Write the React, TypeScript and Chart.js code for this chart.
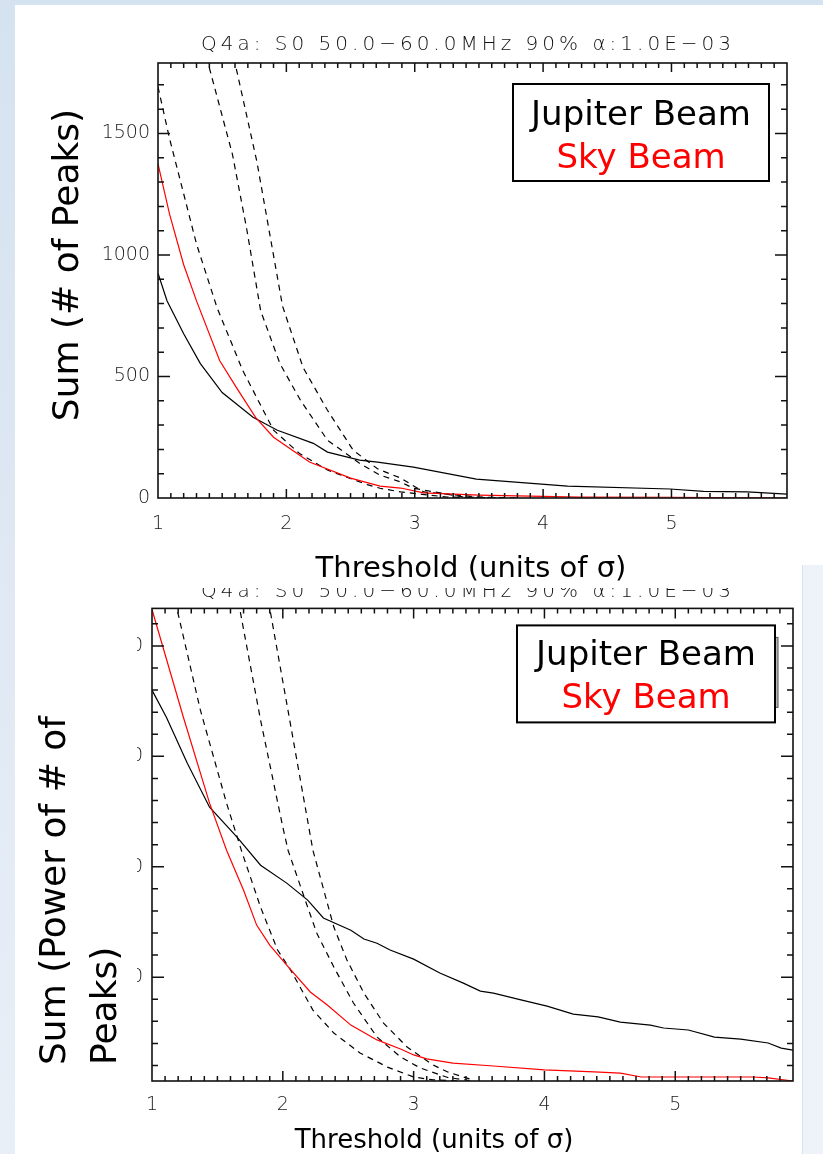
import React, { useEffect, useRef } from "react";
import { Chart, registerables } from "chart.js";

Chart.register(...registerables);
Chart.defaults.font.family = "'DejaVu Sans', sans-serif";

// ---------- text ----------
const PLOT_TITLE = "Q4a: S0 50.0\u221260.0MHz 90% \u03b1:1.0E\u221203";
const X_TITLE = "Threshold (units of \u03c3)";
const TOP_Y_TITLE = ["Sum (# of Peaks)"];
const BOTTOM_Y_TITLE = ["Sum (Power of # of", "Peaks)"];
const JUPITER_LABEL = "Jupiter Beam";
const SKY_LABEL = "Sky Beam";

// ---------- top panel: number of peaks ----------
const topJupiterX = [1.0, 1.07, 1.2, 1.33, 1.5, 1.74, 1.93, 2.21, 2.32, 2.57, 2.71, 2.99, 3.48, 4.19, 4.99, 5.25, 5.59, 5.9];
const topJupiterY = [925, 812, 676, 553, 434, 332, 279, 225, 189, 156, 148, 127, 78, 49, 37, 27, 25, 16];
const topSkyX = [1.0, 1.09, 1.2, 1.3, 1.48, 1.61, 1.76, 1.9, 2.18, 2.5, 2.73, 2.89, 3.07, 3.5, 4.29, 5.0, 5.9];
const topSkyY = [1375, 1168, 960, 811, 566, 455, 332, 250, 148, 82, 49, 41, 21, 12, 4, 3, 0];
const topDash1X = [1.0, 1.09, 1.3, 1.46, 1.66, 1.9, 2.1, 2.32, 2.63, 2.73, 2.89, 3.25, 3.6];
const topDash1Y = [1692, 1479, 1045, 783, 525, 279, 184, 115, 55, 40, 25, 4, 0];
const topDash2X = [1.35, 1.39, 1.58, 1.69, 1.8, 1.95, 2.11, 2.32, 2.57, 2.73, 2.89, 2.99, 3.38, 3.7];
const topDash2Y = [1950, 1790, 1414, 1110, 770, 553, 402, 238, 143, 94, 66, 40, 4, 0];
const topDash3X = [1.57, 1.6, 1.77, 1.97, 2.13, 2.32, 2.52, 2.71, 2.89, 3.07, 3.5, 3.8];
const topDash3Y = [1900, 1790, 1385, 790, 537, 361, 197, 120, 82, 25, 4, 0];

// ---------- bottom panel: power of peaks ----------
const botJupiterX = [1.0, 1.11, 1.27, 1.44, 1.65, 1.83, 2.03, 2.19, 2.31, 2.52, 2.62, 2.72, 2.82, 3.0, 3.2, 3.38, 3.51, 3.61, 3.82, 4.02, 4.22, 4.41, 4.58, 4.81, 4.91, 5.1, 5.3, 5.5, 5.71, 5.81, 5.9];
const botJupiterY = [18000, 16770, 14690, 12700, 11340, 10070, 9260, 8490, 7680, 7130, 6730, 6540, 6230, 5820, 5190, 4730, 4370, 4280, 3970, 3690, 3330, 3200, 2970, 2830, 2700, 2610, 2290, 2200, 2020, 1790, 1700];
const botSkyX = [1.0, 1.24, 1.44, 1.57, 1.7, 1.8, 1.9, 2.03, 2.21, 2.34, 2.52, 2.72, 2.9, 3.0, 3.1, 3.3, 3.61, 4.0, 4.38, 4.58, 4.74, 5.6, 5.71, 5.9];
const botSkyY = [21650, 16770, 12880, 10750, 8940, 7360, 6450, 5550, 4330, 3740, 2830, 2160, 1750, 1480, 1300, 1110, 980, 800, 710, 660, 480, 480, 440, 300];
const botDash1X = [1.15, 1.19, 1.37, 1.57, 1.69, 1.83, 1.96, 2.06, 2.23, 2.39, 2.59, 2.8, 3.0, 3.15, 3.35];
const botDash1Y = [23000, 21700, 17090, 12880, 10620, 8170, 6230, 5320, 3510, 2470, 1570, 930, 480, 350, 300];
const botDash2X = [1.63, 1.67, 1.83, 2.0, 2.04, 2.19, 2.26, 2.39, 2.54, 2.72, 2.9, 3.05, 3.26, 3.43];
const botDash2Y = [23000, 21700, 16640, 11800, 10750, 8170, 6990, 5460, 3830, 2290, 1390, 890, 460, 320];
const botDash3X = [1.87, 1.9, 2.03, 2.23, 2.39, 2.49, 2.62, 2.77, 2.95, 3.15, 3.26, 3.43];
const botDash3Y = [23000, 21700, 17400, 10750, 7270, 5780, 4280, 2920, 1840, 1020, 710, 390];

// ---------- axes ----------
const X_RANGE = [1, 5.9];
const X_STEPS = [0.1, 1]; // minor, major (labelled)
const TOP_Y_RANGE = [0, 1790];
const TOP_Y_STEPS = [100, 500];
const BOT_Y_RANGE = [300, 21700];
const BOT_Y_STEPS = [1000, 5000];

const pts = (xs: number[], ys: number[]) => xs.map((x, i) => ({ x, y: ys[i] }));
const isMult = (v: number, s: number) => Math.abs(v / s - Math.round(v / s)) < 1e-6;
const stepValues = (range: number[], step: number) => {
  const out: number[] = [];
  const first = Math.ceil(range[0] / step - 1e-9);
  const last = Math.floor(range[1] / step + 1e-9);
  for (let k = first; k <= last; k++) out.push(Math.round(k * step * 1e6) / 1e6);
  return out;
};

function datasets(sky: any[], jup: any[], d1: any[], d2: any[], d3: any[]) {
  const base = { pointRadius: 0, borderWidth: 1.2, fill: false, tension: 0 };
  return [
    { ...base, label: SKY_LABEL, data: sky, borderColor: "#ff0000", inLegend: true },
    { ...base, label: JUPITER_LABEL, data: jup, borderColor: "#000000", inLegend: true },
    { ...base, label: "Reference 1", data: d1, borderColor: "#000000", borderDash: [6, 5] },
    { ...base, label: "Reference 2", data: d2, borderColor: "#000000", borderDash: [6, 5] },
    { ...base, label: "Reference 3", data: d3, borderColor: "#000000", borderDash: [6, 5] },
  ];
}

const idlPlugin = {
  id: "idl",
  afterDatasetsDraw(chart: any, _args: any, o: any) {
    const { ctx, chartArea: a } = chart;
    const xs = chart.scales.x;
    const ys = chart.scales.y;
    ctx.save();
    ctx.strokeStyle = "#111";
    ctx.lineWidth = 1.5;
    ctx.setLineDash([]);
    ctx.beginPath();
    xs.ticks.forEach((t: any) => {
      const v = t.value;
      if (v <= xs.min + 1e-9 || v >= xs.max - 1e-9) return;
      const len = isMult(v, o.xMajor) ? o.xMajorLen : o.xMinorLen;
      const px = xs.getPixelForValue(v);
      ctx.moveTo(px, a.bottom);
      ctx.lineTo(px, a.bottom - len);
      ctx.moveTo(px, a.top);
      ctx.lineTo(px, a.top + len);
    });
    ys.ticks.forEach((t: any) => {
      const v = t.value;
      if (v <= ys.min + 1e-9 || v >= ys.max - 1e-9) return;
      const len = isMult(v, o.yMajor) ? o.yMajorLen : o.yMinorLen;
      const py = ys.getPixelForValue(v);
      ctx.moveTo(a.left, py);
      ctx.lineTo(a.left + len, py);
      ctx.moveTo(a.right, py);
      ctx.lineTo(a.right - len, py);
    });
    ctx.stroke();
    ctx.lineWidth = 1.6;
    ctx.strokeRect(a.left, a.top, a.right - a.left, a.bottom - a.top);

    // legend
    const L = o.legend;
    const bx = a.right - L.right - L.width;
    const by = a.top + L.top;
    if (L.shadow) {
      ctx.fillStyle = "#b5b5b5";
      ctx.fillRect(bx + L.width - 2, by + 12, 5, L.height - 27);
      ctx.lineWidth = 1;
      ctx.strokeStyle = "#555";
      ctx.strokeRect(bx + L.width - 2, by + 12, 5, L.height - 27);
    }
    ctx.fillStyle = "#fff";
    ctx.fillRect(bx, by, L.width, L.height);
    ctx.lineWidth = 2;
    ctx.strokeStyle = "#000";
    ctx.strokeRect(bx, by, L.width, L.height);
    const items = chart.data.datasets.filter((d: any) => d.inLegend);
    const order = [JUPITER_LABEL, SKY_LABEL];
    ctx.font = `${L.size}px 'DejaVu Sans'`;
    ctx.textAlign = "center";
    ctx.textBaseline = "alphabetic";
    order.forEach((lab, i) => {
      const d = items.find((it: any) => it.label === lab);
      if (!d) return;
      ctx.fillStyle = d.borderColor;
      ctx.fillText(d.label, bx + L.width / 2, by + L.baselines[i]);
    });
    ctx.restore();
  },
  afterDraw(chart: any, _args: any, o: any) {
    const { ctx } = chart;
    ctx.save();
    ctx.fillStyle = "#111";
    const T = o.title;
    ctx.font = `200 ${T.size}px 'DejaVu Sans'`;
    (ctx as any).letterSpacing = `${T.spacing}px`;
    ctx.textAlign = "center";
    ctx.textBaseline = "alphabetic";
    ctx.fillText(PLOT_TITLE, T.x, T.y);
    (ctx as any).letterSpacing = "0px";
    const XT = o.xTitle;
    ctx.fillStyle = "#000";
    ctx.font = `${XT.size}px 'DejaVu Sans'`;
    ctx.fillText(X_TITLE, XT.x, XT.y);
    const YT = o.yTitle;
    ctx.font = `${YT.size}px 'DejaVu Sans'`;
    YT.lines.forEach((line: string, i: number) => {
      ctx.save();
      ctx.translate(YT.xs[i], YT.y);
      ctx.rotate(-Math.PI / 2);
      ctx.textAlign = YT.align;
      ctx.fillText(line, 0, 0);
      ctx.restore();
    });
    ctx.restore();
  },
};

function xScale(height: number, pad: number) {
  const vals = stepValues(X_RANGE, X_STEPS[0]);
  return {
    type: "linear",
    min: X_RANGE[0],
    max: X_RANGE[1],
    grid: { display: false, drawTicks: false },
    border: { display: false },
    afterBuildTicks: (s: any) => {
      s.ticks = vals.map((v) => ({ value: v }));
    },
    ticks: {
      autoSkip: false,
      maxRotation: 0,
      minRotation: 0,
      padding: pad,
      color: "#1a1a1a",
      font: { size: 19, weight: "200" },
      callback: (v: any) => (isMult(Number(v), X_STEPS[1]) ? String(Math.round(Number(v))) : ""),
    },
    afterFit: (s: any) => {
      s.height = height;
    },
  };
}

function yScale(range: number[], steps: number[], width: number, pad: number, color: any) {
  const vals = stepValues(range, steps[0]);
  return {
    type: "linear",
    min: range[0],
    max: range[1],
    grid: { display: false, drawTicks: false },
    border: { display: false },
    afterBuildTicks: (s: any) => {
      s.ticks = vals.map((v) => ({ value: v }));
    },
    ticks: {
      autoSkip: false,
      padding: pad,
      color,
      font: { size: 19, weight: "200" },
      callback: (v: any) => (isMult(Number(v), steps[1]) ? String(Math.round(Number(v))) : ""),
    },
    afterFit: (s: any) => {
      s.width = width;
    },
  };
}

function buildTop(_c: HTMLCanvasElement) {
  return {
    type: "line",
    data: {
      datasets: datasets(
        pts(topSkyX, topSkyY),
        pts(topJupiterX, topJupiterY),
        pts(topDash1X, topDash1Y),
        pts(topDash2X, topDash2Y),
        pts(topDash3X, topDash3Y)
      ),
    },
    options: {
      responsive: false,
      animation: false,
      layout: { padding: { left: 0, right: 36, top: 58, bottom: 0 } },
      plugins: {
        legend: { display: false },
        tooltip: { enabled: false },
        idl: {
          xMajor: X_STEPS[1], yMajor: TOP_Y_STEPS[1],
          xMajorLen: 9, xMinorLen: 5, yMajorLen: 12, yMinorLen: 6,
          legend: { right: 18, top: 21, width: 256, height: 97, baselines: [41, 84], size: 34, shadow: false },
          title: { x: 453, y: 45, size: 20, spacing: 4 },
          xTitle: { x: 456, y: 572, size: 29 },
          yTitle: { lines: TOP_Y_TITLE, xs: [63], y: 260, size: 36, align: "center" },
        },
      },
      scales: {
        x: xScale(87, 15),
        y: yScale(TOP_Y_RANGE, TOP_Y_STEPS, 143, 8, "#1a1a1a"),
      },
    },
    plugins: [idlPlugin],
  };
}

function buildBottom(c: HTMLCanvasElement) {
  // labels are drawn translated to their anchor (right edge at x = 0);
  // only the last few px of each label is visible, as in the cropped original
  const g = c.getContext("2d")!;
  const grad = g.createLinearGradient(-20, 0, 0, 0);
  grad.addColorStop(0, "rgba(26,26,26,0)");
  grad.addColorStop(0.7, "rgba(26,26,26,0)");
  grad.addColorStop(0.701, "rgba(26,26,26,1)");
  grad.addColorStop(1, "rgba(26,26,26,1)");
  return {
    type: "line",
    data: {
      datasets: datasets(
        pts(botSkyX, botSkyY),
        pts(botJupiterX, botJupiterY),
        pts(botDash1X, botDash1Y),
        pts(botDash2X, botDash2Y),
        pts(botDash3X, botDash3Y)
      ),
    },
    options: {
      responsive: false,
      animation: false,
      layout: { padding: { left: 0, right: 30, top: 20, bottom: 0 } },
      plugins: {
        legend: { display: false },
        tooltip: { enabled: false },
        idl: {
          xMajor: X_STEPS[1], yMajor: BOT_Y_STEPS[1],
          xMajorLen: 10, xMinorLen: 5, yMajorLen: 12, yMinorLen: 6,
          legend: { right: 18, top: 17, width: 258, height: 97, baselines: [40, 83], size: 34, shadow: true },
          title: { x: 453, y: 9, size: 20, spacing: 4 },
          xTitle: { x: 419, y: 560, size: 26 },
          yTitle: { lines: BOTTOM_Y_TITLE, xs: [50, 101], y: 477, size: 36, align: "left" },
        },
      },
      scales: {
        x: xScale(73, 13),
        y: yScale(BOT_Y_RANGE, BOT_Y_STEPS, 137, 9, grad),
      },
    },
    plugins: [idlPlugin],
  };
}

function Plot({ build, left, top, width, height }: any) {
  const ref = useRef<HTMLCanvasElement>(null);
  useEffect(() => {
    const c = ref.current!;
    const chart = new Chart(c, build(c) as any);
    return () => chart.destroy();
  }, []);
  return (
    <canvas
      ref={ref}
      width={width}
      height={height}
      style={{ position: "absolute", left, top, width, height, display: "block" }}
    />
  );
}

export default function App() {
  return (
    <div
      style={{
        position: "absolute",
        left: 0,
        top: 0,
        width: 823,
        height: 1154,
        overflow: "hidden",
        background: "linear-gradient(180deg, #d5e2f0 0%, #dfe8f3 50%, #e9eff7 100%)",
      }}
    >
      <div style={{ position: "absolute", left: 15, top: 5, width: 808, height: 1149, background: "#ffffff" }} />
      <div
        style={{
          position: "absolute",
          left: 802,
          top: 565,
          width: 21,
          height: 589,
          background: "#eef3f9",
          borderLeft: "1px solid #d8e2ee",
        }}
      />
      <Plot build={buildTop} left={15} top={5} width={808} height={580} />
      <Plot build={buildBottom} left={15} top={588} width={808} height={566} />
    </div>
  );
}
